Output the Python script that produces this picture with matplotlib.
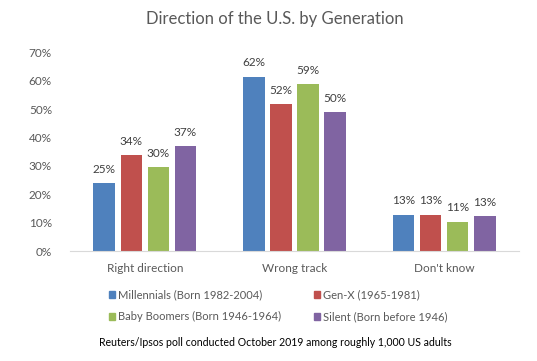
import matplotlib
matplotlib.use("Agg")
import matplotlib.pyplot as plt
from matplotlib.patches import Patch
import numpy as np

# Chart data
categories = ["Right direction", "Wrong track", "Don't know"]
series_names = ["Millennials (Born 1982-2004)", "Gen-X (1965-1981)",
                "Baby Boomers (Born 1946-1964)", "Silent (Born before 1946)"]
millennials = [24.0, 61.5, 12.8]
gen_x = [33.8, 51.8, 12.8]
boomers = [29.5, 58.8, 10.3]
silent = [36.9, 49.0, 12.4]
# labels as printed on the chart
millennials_lbl = ["25%", "62%", "13%"]
gen_x_lbl = ["34%", "52%", "13%"]
boomers_lbl = ["30%", "59%", "11%"]
silent_lbl = ["37%", "50%", "13%"]
y_ticks = [0, 10, 20, 30, 40, 50, 60, 70]

colors = ["#4F81BD", "#C0504D", "#9BBB59", "#8064A2"]
plt.rcParams["font.family"] = ["Lato", "DejaVu Sans"]

fig = plt.figure(figsize=(5.37, 3.61), dpi=100)
ax = fig.add_axes([70 / 537, 1 - 251 / 361, 449 / 537, 198.5 / 361])

x = np.arange(len(categories))
width = 0.144
step = 0.181
all_vals = [millennials, gen_x, boomers, silent]
all_lbls = [millennials_lbl, gen_x_lbl, boomers_lbl, silent_lbl]
for i, (vals, lbls) in enumerate(zip(all_vals, all_lbls)):
    pos = x + (i - 1.5) * step
    bars = ax.bar(pos, vals, width, color=colors[i], zorder=2)
    for b, lbl in zip(bars, lbls):
        ax.annotate(lbl, (b.get_x() + b.get_width() / 2, b.get_height()),
                    xytext=(0, 6), textcoords="offset points",
                    ha="center", va="bottom", fontsize=8.5, color="#404040")

ax.set_xlim(-0.5, 2.5)
ax.set_ylim(0, 70)
ax.set_yticks(y_ticks)
ax.set_yticklabels([f"{t}%" for t in y_ticks])
ax.set_xticks(x)
ax.set_xticklabels(categories)
for s in ["top", "right", "left"]:
    ax.spines[s].set_visible(False)
ax.spines["bottom"].set_color("#D9D9D9")
ax.tick_params(axis="both", length=0, labelsize=8.5, colors="#595959")
ax.tick_params(axis="y", pad=13)
ax.tick_params(axis="x", pad=9)

fig.text(275 / 537, 1 - 19 / 361, "Direction of the U.S. by Generation",
         ha="center", va="center", fontsize=12, color="#595959")

handles = [Patch(color=c) for c in colors]
order = [0, 2, 1, 3]
fig.legend([handles[k] for k in order], [series_names[k] for k in order],
           ncol=2, loc="center", bbox_to_anchor=(278 / 537, 1 - 306 / 361),
           frameon=False, fontsize=8, handlelength=0.55, handleheight=0.55,
           handletextpad=0.25, columnspacing=3.0, labelspacing=0.95,
           labelcolor="#595959")

fig.text(275 / 537, 1 - 343 / 361,
         "Reuters/Ipsos poll conducted October 2019 among roughly 1,000 US adults",
         ha="center", va="center", fontsize=7.6, color="#000000")

fig.savefig("out.png", dpi=100)
